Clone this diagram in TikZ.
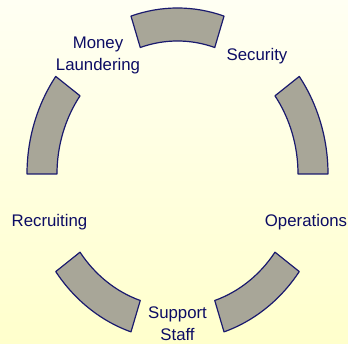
\documentclass[tikz,border=0pt]{standalone}
\usepackage{fontspec}
\setmainfont{Liberation Sans}
\definecolor{bgtop}{RGB}{255,255,243}
\definecolor{bgbottom}{RGB}{255,255,204}
\definecolor{segfill}{RGB}{168,166,152}
\definecolor{segline}{RGB}{26,26,110}
\definecolor{labelblue}{RGB}{12,12,100}
\begin{document}
\begin{tikzpicture}[x=1pt, y=1pt, font=\fontsize{16.8}{22}\selectfont,
    segment/.style={draw=segline, fill=segfill, line width=1.2pt, line join=round},
    lbl/.style={text=labelblue, align=center, inner sep=0pt}]
    \shade[top color=bgtop, bottom color=bgbottom] (0,0) rectangle (348,343);
    \useasboundingbox (0,0) rectangle (348,343);
    \begin{scope}[shift={(177.5,169)}]
        \foreach \c in {90,18,-54,-126,162}
            \draw[segment] (\c-18:150.5 and 166) arc[start angle=\c-18, end angle=\c+18, x radius=150.5, y radius=166]
                -- (\c+18:120.5 and 133) arc[start angle=\c+18, end angle=\c-18, x radius=120.5, y radius=133] -- cycle;
    \end{scope}
    \node[lbl] (money) at (98,288) {Money\\Laundering};
    \node[lbl, anchor=base] (security) at (257,282.3) {Security};
    \node[lbl, anchor=base] (operations) at (306,116.3) {Operations};
    \node[lbl] (support) at (177.5,19) {Support\\Staff};
    \node[lbl, anchor=base] (recruiting) at (49.5,116.3) {Recruiting};
\end{tikzpicture}
\end{document}
